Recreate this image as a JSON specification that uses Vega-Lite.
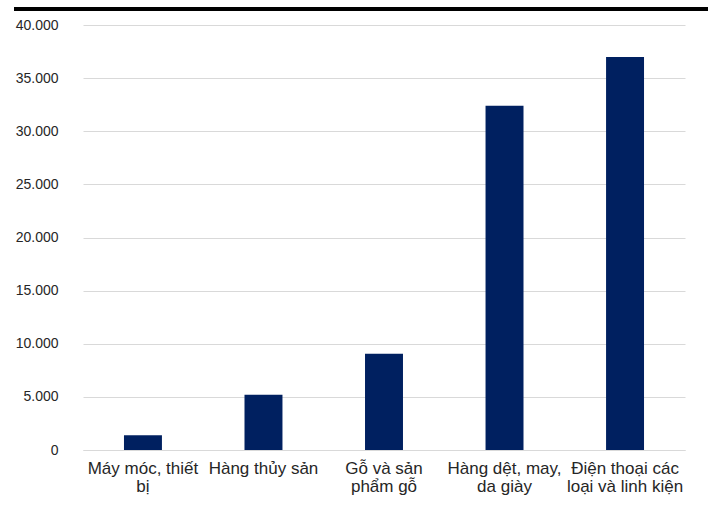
{
  "$schema": "https://vega.github.io/schema/vega-lite/v6.json",
  "background": "white",
  "padding": {"left": 14, "top": 7, "right": 5, "bottom": 5},
  "spacing": 7,
  "config": {
    "font": "Liberation Sans",
    "view": {"stroke": null}
  },
  "vconcat": [
    {
      "width": 694,
      "height": 4,
      "view": {"fill": "black", "stroke": null},
      "data": {"values": []},
      "mark": "rule",
      "encoding": {}
    },
    {
      "spacing": 0,
      "hconcat": [
        {
          "width": 1,
          "height": 1,
          "data": {"values": []},
          "mark": "rule",
          "encoding": {}
        },
        {
          "width": 602,
          "height": 425,
          "data": {
            "values": [
              {"nhom": "Máy móc, thiết|bị", "gia_tri": 1400},
              {"nhom": "Hàng thủy sản", "gia_tri": 5200},
              {"nhom": "Gỗ và sản|phẩm gỗ", "gia_tri": 9050},
              {"nhom": "Hàng dệt, may,|da giày", "gia_tri": 32400},
              {"nhom": "Điện thoại các|loại và linh kiện", "gia_tri": 37000}
            ]
          },
          "mark": {"type": "bar", "color": "#002060"},
          "encoding": {
            "x": {
              "field": "nhom",
              "type": "nominal",
              "sort": null,
              "scale": {"paddingInner": 0.685, "paddingOuter": 0.34},
              "axis": {
                "title": null,
                "labelAngle": 0,
                "labelExpr": "split(datum.label, '|')",
                "labelFontSize": 17,
                "labelLineHeight": 18,
                "labelColor": "#262626",
                "labelPadding": 10,
                "ticks": false,
                "domainColor": "#d9d9d9",
                "domainWidth": 1
              }
            },
            "y": {
              "field": "gia_tri",
              "type": "quantitative",
              "scale": {"domain": [0, 40000], "nice": false},
              "axis": {
                "title": null,
                "values": [0, 5000, 10000, 15000, 20000, 25000, 30000, 35000, 40000],
                "labelExpr": "replace(format(datum.value, ','), ',', '.')",
                "labelFontSize": 14,
                "labelColor": "#262626",
                "labelPadding": 25,
                "ticks": false,
                "domain": false,
                "gridColor": "#d9d9d9",
                "gridWidth": 1
              }
            }
          }
        }
      ]
    }
  ]
}
